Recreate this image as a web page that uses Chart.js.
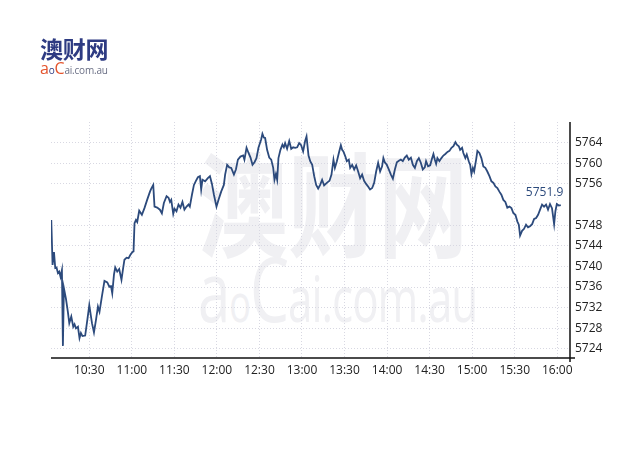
<!DOCTYPE html>
<html><head><meta charset="utf-8">
<script src="https://cdn.jsdelivr.net/npm/chart.js@4.4.0/dist/chart.umd.min.js"></script>
<style>
html,body{margin:0;padding:0;background:#fff;width:640px;height:454px;overflow:hidden;}
#wrap{position:relative;width:640px;height:454px;}
canvas{position:absolute;left:0;top:0;z-index:2;}
#logo{position:absolute;left:40px;top:34px;z-index:3;}
#logo .cn{font-family:'Noto Sans CJK SC';font-weight:bold;font-size:23px;color:#2e3b82;line-height:28px;letter-spacing:-0.2px;}
#logo .en{font-family:'Open Sans';font-size:10px;color:#6a6f85;line-height:15px;margin-top:-1px;letter-spacing:-0.2px;}
#wm1{position:absolute;left:198px;top:130px;z-index:1;font-family:'Noto Sans CJK SC';font-weight:bold;font-size:90px;line-height:110px;color:#f0f0f3;transform:scaleY(1.25);transform-origin:top left;white-space:nowrap;}
#wm2{position:absolute;left:198px;top:236px;z-index:1;font-family:'Open Sans';font-weight:400;font-size:44px;line-height:70px;color:#f0f0f3;white-space:nowrap;letter-spacing:-1px;transform:scaleY(1.45);transform-origin:top left;}
</style></head>
<body>
<div id="wrap">
  <div id="logo">
    <div class="cn">澳财网</div>
    <div class="en"><span style="color:#e4542d;font-size:16px">a</span><span style="color:#2e3b82;font-size:10px">o</span><span style="color:#e4542d;font-size:16px">C</span>ai.com.au</div>
  </div>
  <div id="wm1">澳财网</div>
  <div id="wm2"><span style="font-size:58px">a</span><span style="font-size:36px">o</span><span style="font-size:62px">C</span>ai.com.au</div>
  <canvas id="c" width="640" height="454"></canvas>
</div>
<script>
// minutes after 10:00
const minutes = [3.2,4.1,5.1,6.0,6.9,7.9,8.8,9.7,10.7,11.4,12.1,13.5,14.9,15.9,17.3,18.7,19.6,20.6,22.0,23.1,
24.1,25.2,27.1,28.6,30.0,31.9,33.3,34.7,36.1,37.2,38.9,40.7,42.7,44.1,45.3,46.2,47.4,48.3,49.7,51.1,
52.7,53.9,54.8,56.3,57.7,59.1,60.5,61.2,61.9,62.9,63.8,65.2,67.1,68.9,70.8,72.8,73.7,75.1,76.0,77.9,
79.8,81.2,82.6,84.5,85.9,86.9,87.8,89.2,90.1,91.5,92.9,94.3,95.7,97.1,98.6,100.0,100.9,102.4,103.8,105.2,
106.6,108.0,108.9,109.8,111.7,113.6,115.1,116.5,117.9,119.7,121.1,123.0,124.9,125.8,127.2,128.7,130.1,132.0,133.4,134.8,
136.6,138.5,139.4,140.9,142.3,143.7,145.1,146.5,147.9,149.3,151.2,152.1,153.1,154.0,155.4,156.9,158.3,159.7,160.6,161.6,
162.5,163.4,164.8,166.2,167.2,168.1,169.5,171.0,172.4,173.8,175.2,176.6,178.0,179.4,180.8,182.2,183.2,184.6,185.8,187.2,
188.6,190.0,191.4,192.8,194.2,195.6,197.5,199.4,200.8,202.2,203.2,204.6,206.0,207.4,208.3,209.2,210.6,211.6,213.0,214.0,
215.4,216.8,218.2,219.6,221.0,222.4,223.8,225.2,226.6,228.0,229.5,230.9,232.3,233.7,235.1,236.5,237.4,238.4,239.8,241.2,
242.7,244.1,245.5,246.9,248.3,249.7,251.1,252.5,253.9,255.3,256.8,258.2,259.6,261.0,262.4,263.8,265.2,266.6,267.5,268.9,
270.4,271.8,272.7,273.7,274.6,275.5,276.9,278.3,279.7,281.1,282.6,284.0,285.4,286.8,288.2,289.2,290.6,291.5,292.9,293.8,
295.2,296.2,297.6,298.6,299.5,300.5,301.4,302.8,303.7,305.1,306.5,307.9,309.3,310.7,312.2,313.6,315.0,316.4,317.8,319.2,
320.6,322.0,323.4,324.8,326.3,327.7,329.1,330.5,331.9,332.9,333.8,335.2,336.6,338.0,339.4,340.8,342.3,343.7,345.1,346.5,
347.9,349.3,350.7,352.1,353.5,354.9,356.3,357.8,358.7,359.7,361.1,362.5];
const values = [5749.0,5740.3,5742.8,5739.7,5739.8,5738.7,5739.0,5738.0,5739.3,5724.6,5735.8,5733.8,5731.2,5729.0,5730.3,5728.3,5728.8,5728.0,5728.3,5726.1,
5727.1,5726.5,5726.6,5729.6,5732.5,5729.0,5727.2,5729.6,5732.2,5731.2,5734.2,5737.2,5736.9,5736.1,5736.2,5734.8,5738.4,5739.8,5739.0,5739.5,
5737.4,5739.7,5741.3,5741.7,5741.6,5742.3,5742.8,5742.9,5748.4,5749.0,5748.6,5750.8,5750.0,5751.3,5752.9,5754.5,5755.1,5755.8,5751.6,5751.4,
5751.0,5750.3,5752.3,5753.6,5753.3,5752.5,5752.9,5750.2,5751.2,5750.7,5752.0,5751.4,5752.5,5751.0,5751.6,5752.0,5751.6,5753.9,5755.8,5756.6,
5757.3,5757.5,5754.9,5756.8,5756.5,5757.1,5757.5,5756.0,5753.9,5751.6,5752.9,5754.5,5755.8,5757.8,5759.7,5759.2,5759.1,5757.8,5758.8,5760.7,
5761.3,5761.5,5760.7,5763.0,5762.0,5761.1,5759.7,5760.2,5761.0,5763.0,5764.6,5765.7,5765.0,5764.9,5762.6,5761.1,5760.7,5759.1,5756.8,5757.9,
5756.8,5761.0,5762.6,5763.6,5763.1,5763.9,5762.8,5764.3,5762.8,5763.1,5763.0,5763.1,5763.9,5763.5,5762.3,5764.3,5765.2,5761.5,5760.4,5759.7,
5757.5,5755.8,5755.1,5755.8,5756.8,5755.7,5756.2,5756.6,5757.8,5760.7,5759.1,5760.4,5762.0,5763.5,5762.6,5762.3,5761.3,5760.4,5760.7,5759.1,
5759.7,5758.8,5759.6,5758.4,5757.1,5757.8,5756.6,5756.0,5755.5,5754.9,5755.2,5756.2,5758.4,5760.1,5758.4,5759.4,5761.0,5760.2,5759.7,5758.8,
5757.8,5757.0,5758.8,5760.2,5760.5,5760.7,5760.4,5761.1,5761.5,5760.7,5761.1,5759.7,5759.1,5760.4,5761.0,5760.1,5758.8,5759.2,5760.4,5759.4,
5759.6,5761.0,5761.8,5760.7,5759.9,5761.0,5760.4,5761.0,5761.5,5761.8,5762.2,5762.4,5763.0,5763.3,5764.1,5763.6,5763.3,5762.6,5763.0,5762.0,
5761.0,5761.7,5760.4,5759.7,5757.9,5759.1,5758.4,5760.7,5762.4,5762.0,5761.0,5759.4,5759.1,5758.4,5757.5,5756.5,5756.2,5755.5,5755.2,5754.5,
5753.9,5752.9,5752.5,5751.4,5751.6,5751.3,5750.3,5750.0,5748.7,5748.1,5746.0,5746.9,5747.3,5748.1,5747.6,5747.8,5748.2,5749.2,5749.4,5750.0,
5751.0,5752.0,5751.6,5752.0,5751.0,5752.1,5751.3,5748.2,5750.7,5752.1,5751.8,5751.9];
const tickMinutes = [30,60,90,120,150,180,210,240,270,300,330,360];
const tickLabels = ['10:30','11:00','11:30','12:00','12:30','13:00','13:30','14:00','14:30','15:00','15:30','16:00'];
const yTickValues = [5724,5728,5732,5736,5740,5744,5748,5756,5760,5764];
const lastLabel = '5751.9';

const points = minutes.map((m, i) => ({x: m, y: values[i]}));
const lineColor = '#2c4a7c';
const gridColor = '#d8d8e2';

const axisLines = {
  id: 'axisLines',
  afterDraw(chart) {
    const {ctx, chartArea: a} = chart;
    ctx.save();
    ctx.strokeStyle = '#111';
    ctx.lineWidth = 1.5;
    ctx.beginPath();
    ctx.moveTo(a.left, a.bottom);
    ctx.lineTo(a.right + 5, a.bottom);
    ctx.moveTo(a.right, a.top);
    ctx.lineTo(a.right, a.bottom + 4);
    ctx.stroke();
    const meta = chart.getDatasetMeta(0);
    const p = meta.data[meta.data.length - 1];
    ctx.fillStyle = lineColor;
    ctx.font = '12px "Open Sans"';
    ctx.textAlign = 'right';
    ctx.textBaseline = 'middle';
    ctx.fillText(lastLabel, p.x + 2.5, p.y - 12.5);
    ctx.restore();
  }
};

new Chart(document.getElementById('c'), {
  type: 'line',
  data: {
    datasets: [{
      data: points,
      borderColor: lineColor,
      borderWidth: 1.8,
      pointRadius: 0,
      tension: 0,
      fill: false
    }]
  },
  options: {
    responsive: false,
    devicePixelRatio: 1,
    animation: false,
    layout: {padding: {left: 51, top: 122, right: 0, bottom: 0}},
    plugins: {legend: {display: false}, tooltip: {enabled: false}},
    scales: {
      x: {
        type: 'linear',
        min: 3,
        max: 369,
        afterBuildTicks: s => { s.ticks = tickMinutes.map(v => ({value: v})); },
        afterFit: s => { s.height = 96; },
        grid: {color: gridColor, drawTicks: false, lineWidth: 1},
        border: {display: false, dash: [1, 2]},
        ticks: {
          padding: 5,
          maxRotation: 0,
          autoSkip: false,
          color: '#222',
          font: {family: 'Open Sans', size: 12},
          callback: (v, i) => tickLabels[i]
        }
      },
      y: {
        position: 'right',
        min: 5722.25,
        max: 5768,
        afterBuildTicks: s => { s.ticks = yTickValues.map(v => ({value: v})); },
        afterFit: s => { s.width = 70; },
        grid: {color: gridColor, drawTicks: false, lineWidth: 1},
        border: {display: false, dash: [1, 2]},
        ticks: {
          padding: 5,
          color: '#222',
          font: {family: 'Open Sans', size: 12},
          callback: v => String(v)
        }
      }
    }
  },
  plugins: [axisLines]
});
</script>
</body></html>
